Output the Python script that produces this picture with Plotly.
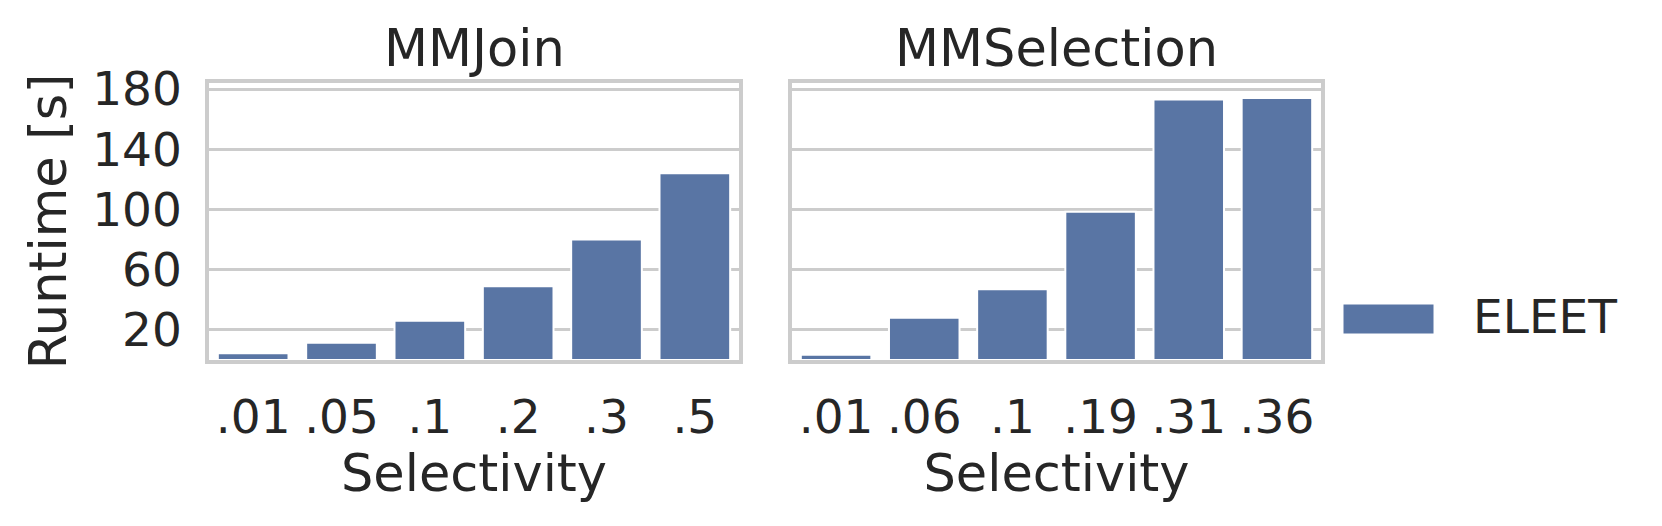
"""Runtime per selectivity for MMJoin and MMSelection (ELEET)."""

import plotly.graph_objects as go

# data
join_labels = [".01", ".05", ".1", ".2", ".3", ".5"]
join_runtime = [4.5, 11.5, 26, 49, 80, 124]
selection_labels = [".01", ".06", ".1", ".19", ".31", ".36"]
selection_runtime = [3.5, 28, 47, 98.5, 173, 174]
panel_titles = ["MMJoin", "MMSelection"]
y_ticks = [20, 60, 100, 140, 180]
series_name = "ELEET"

W, H = 1662, 526
PAGE_MARGIN = 8  # default body margin of the html page
BAR_COLOR = "#5975a4"
GRID = "#cccccc"
TEXT = "#262626"
FONT = "DejaVu Sans"
TICK_SIZE = 47
LABEL_SIZE = 51


def fx(x):
    # page pixel -> paper fraction
    return (x - PAGE_MARGIN) / W


def fy(y):
    return 1 - (y - PAGE_MARGIN) / H


left_dom = [fx(209), fx(739)]
right_dom = [fx(792), fx(1321)]
y_dom = [fy(360), fy(83)]

fig = go.Figure()
fig.add_trace(go.Bar(
    x=join_labels, y=join_runtime, name=series_name,
    xaxis="x", yaxis="y", width=0.8,
    marker=dict(color=BAR_COLOR, line=dict(color="white", width=2)),
))
fig.add_trace(go.Bar(
    x=selection_labels, y=selection_runtime, name=series_name,
    xaxis="x2", yaxis="y2", width=0.8,
    marker=dict(color=BAR_COLOR, line=dict(color="white", width=2)),
))

xaxis_common = dict(
    type="category", range=[-0.5, 5.5], showgrid=False, automargin=False,
    showline=True, mirror=True, linecolor=GRID, linewidth=3.5,
    ticks="outside", ticklen=13, tickcolor="rgba(0,0,0,0)",
    tickfont=dict(size=TICK_SIZE, color=TEXT),
    title=dict(text="Selectivity", font=dict(size=LABEL_SIZE, color=TEXT), standoff=7),
)
yaxis_common = dict(
    range=[0, 184], tickvals=y_ticks, showgrid=True, gridcolor=GRID, gridwidth=3,
    zeroline=False, showline=True, mirror=True, linecolor=GRID, linewidth=3.5,
    domain=y_dom, automargin=False,
)

fig.update_layout(
    width=W, height=H,
    margin=dict(l=0, r=0, t=0, b=0),
    paper_bgcolor="white", plot_bgcolor="white",
    font=dict(family=FONT, color=TEXT),
    showlegend=False,
    bargap=0.2,
    xaxis=dict(domain=left_dom, anchor="y", **xaxis_common),
    xaxis2=dict(domain=right_dom, anchor="y2", **xaxis_common),
    yaxis=dict(
        anchor="x",
        ticks="outside", ticklen=14, tickcolor="rgba(0,0,0,0)",
        tickfont=dict(size=TICK_SIZE, color=TEXT),
        title=dict(text="Runtime [s]", font=dict(size=LABEL_SIZE, color=TEXT), standoff=10),
        **yaxis_common,
    ),
    yaxis2=dict(anchor="x2", matches="y", showticklabels=False, **yaxis_common),
)

# panel titles
for dom, title in zip([left_dom, right_dom], panel_titles):
    fig.add_annotation(
        x=(dom[0] + dom[1]) / 2, y=fy(80), xref="paper", yref="paper",
        text=title, showarrow=False, xanchor="center", yanchor="bottom",
        font=dict(size=LABEL_SIZE, color=TEXT),
    )

# legend drawn by hand so the patch can be as large as in the reference
fig.add_shape(
    type="rect", xref="paper", yref="paper",
    x0=fx(1343), x1=fx(1434), y0=fy(334), y1=fy(304),
    fillcolor=BAR_COLOR, line=dict(color="white", width=1),
)
fig.add_annotation(
    x=fx(1471), y=fy(316), xref="paper", yref="paper",
    text=series_name, showarrow=False, xanchor="left", yanchor="middle",
    font=dict(size=TICK_SIZE, color=TEXT),
)

fig.write_html("out.html")
